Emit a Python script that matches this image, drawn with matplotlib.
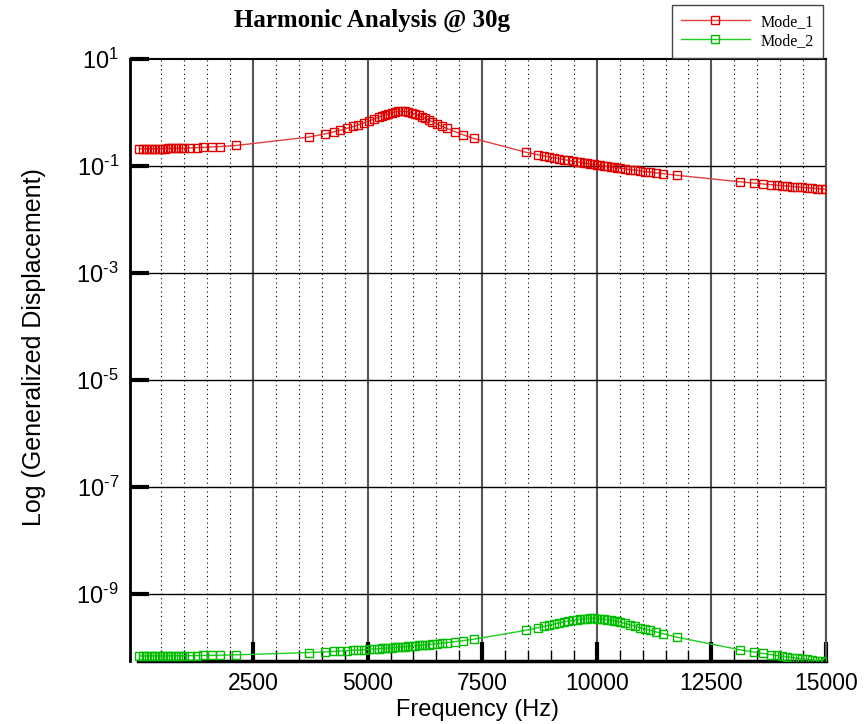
import matplotlib
matplotlib.use("Agg")
import matplotlib.pyplot as plt
import numpy as np
from matplotlib.ticker import FixedLocator, FixedFormatter

# frequencies of the solution points (Hz), shared by both modes
freq = [20, 90, 160, 230, 300, 370, 440, 510, 580, 650, 720, 790, 860, 930, 1000,
        1130, 1270, 1410, 1600, 1780, 2130,
        3720, 4070, 4270, 4400, 4550, 4690, 4800, 4910, 5020, 5130, 5240, 5310,
        5380, 5450, 5530, 5600, 5670, 5750, 5820, 5890, 5970, 6040, 6110, 6180,
        6260, 6330, 6400, 6510, 6620, 6730, 6910, 7080, 7310,
        8450, 8710, 8840, 8950, 9060, 9170, 9280, 9380, 9490, 9570, 9640, 9710,
        9790, 9860, 9930, 10000, 10080, 10150, 10220, 10300, 10370, 10440, 10510,
        10620, 10730, 10840, 10950, 11060, 11170, 11290, 11450, 11750,
        13120, 13420, 13630, 13790, 13930, 14040, 14150, 14260, 14370, 14480,
        14590, 14700, 14810, 14920, 15000]

mode_1 = [0.210, 0.210, 0.210, 0.210, 0.211, 0.211, 0.211, 0.212, 0.212, 0.213,
          0.213, 0.214, 0.214, 0.215, 0.216, 0.218, 0.220, 0.223, 0.227, 0.231, 0.242,
          0.348, 0.398, 0.436, 0.466, 0.505, 0.549, 0.590, 0.637, 0.689, 0.748,
          0.814, 0.860, 0.904, 0.950, 0.994, 1.026, 1.048, 1.055, 1.046, 1.021,
          0.980, 0.935, 0.883, 0.833, 0.773, 0.724, 0.677, 0.611, 0.554, 0.504,
          0.436, 0.384, 0.328,
          0.181, 0.163, 0.155, 0.148, 0.143, 0.137, 0.132, 0.1275, 0.1229, 0.1197,
          0.1171, 0.1145, 0.1117, 0.1094, 0.1071, 0.1048, 0.1024, 0.1004, 0.0984,
          0.0962, 0.0943, 0.0926, 0.0908, 0.0882, 0.0857, 0.0833, 0.0810, 0.0789,
          0.0767, 0.0746, 0.0718, 0.0671,
          0.0507, 0.0480, 0.0462, 0.0449, 0.0438, 0.0430, 0.0422, 0.0414, 0.0407,
          0.0399, 0.0392, 0.0386, 0.0379, 0.0372, 0.0368]

# Mode_2 in units of 1e-11
mode_2 = [7.00, 7.00, 7.00, 7.00, 7.01, 7.01, 7.01, 7.02, 7.02, 7.03, 7.04, 7.04,
          7.05, 7.06, 7.07, 7.09, 7.11, 7.14, 7.18, 7.23, 7.33,
          8.09, 8.35, 8.51, 8.63, 8.77, 8.91, 9.03, 9.15, 9.28, 9.41, 9.55, 9.64,
          9.74, 9.84, 9.96, 10.07, 10.17, 10.31, 10.43, 10.55, 10.69, 10.83, 10.96,
          11.11, 11.27, 11.43, 11.59, 11.85, 12.13, 12.42, 12.95, 13.50, 14.34,
          21.07, 23.51, 24.90, 26.16, 27.47, 28.84, 30.21, 31.42, 32.67, 33.48,
          34.08, 34.57, 35.00, 35.14, 35.18, 35.00, 34.62, 34.11, 33.45, 32.60,
          31.72, 30.78, 29.83, 28.25, 26.65, 25.12, 23.65, 22.28, 20.98, 19.69,
          18.13, 15.65,
          9.12, 8.29, 7.78, 7.42, 7.14, 6.92, 6.72, 6.53, 6.35, 6.17, 6.00, 5.85,
          5.69, 5.55, 5.45]

x_major = [2500, 5000, 7500, 10000, 12500, 15000]
x_minor = [v for v in range(500, 15000, 500) if v % 2500 != 0]
y_major = [1e1, 1e-1, 1e-3, 1e-5, 1e-7, 1e-9]
y_labels = [r"$10^{1}$", r"$10^{\text{-}1}$", r"$10^{\text{-}3}$", r"$10^{\text{-}5}$",
            r"$10^{\text{-}7}$", r"$10^{\text{-}9}$"]


def main():
    plt.rcParams['font.family'] = ['Liberation Sans', 'DejaVu Sans']
    plt.rcParams['mathtext.fontset'] = 'custom'
    plt.rcParams['mathtext.rm'] = 'Liberation Sans'
    plt.rcParams['mathtext.it'] = 'Liberation Sans'

    W, H = 868, 724
    fig = plt.figure(figsize=(W / 100, H / 100), dpi=100)
    ax = fig.add_axes([130 / W, 1 - 661 / H, (826 - 130) / W, (661 - 59) / H])

    ax.set_yscale('log')
    ax.set_xlim(-185, 15000)
    ax.set_ylim(10 ** -10.25, 10)

    # grid lines
    for v in x_minor:
        ax.axvline(v, color='black', lw=0.8, ls=(0, (1, 3)), zorder=1)
    for v in x_major:
        ax.axvline(v, color='#555555', lw=1.5, zorder=1)
    for v in y_major[1:]:
        ax.axhline(v, color='black', lw=1.0, zorder=1)

    ax.plot(freq, mode_1, color='#e04040', lw=1.0, marker='s', ms=5.5,
            mfc='none', mec='#dd0000', mew=1.0, label='Mode_1', zorder=3)
    ax.plot(freq, np.array(mode_2) * 1e-11, color='#22cc22', lw=1.0, marker='s', ms=5.5,
            mfc='none', mec='#00bb00', mew=1.0, label='Mode_2', zorder=3)

    ax.xaxis.set_major_locator(FixedLocator(x_major))
    ax.xaxis.set_major_formatter(FixedFormatter([str(v) for v in x_major]))
    ax.xaxis.set_minor_locator(FixedLocator(x_minor))
    ax.yaxis.set_major_locator(FixedLocator(y_major))
    ax.yaxis.set_major_formatter(FixedFormatter(y_labels))
    ax.yaxis.set_minor_locator(FixedLocator([]))

    ax.tick_params(axis='x', which='major', direction='in', length=14, width=3,
                   labelsize=16.5, pad=8, top=False)
    ax.tick_params(axis='x', which='minor', direction='in', length=8, width=1, top=False)
    ax.tick_params(axis='y', which='major', direction='in', length=14, width=3,
                   labelsize=17, pad=8, right=False)

    ax.spines['bottom'].set_bounds(0, 15000)
    ax.spines['bottom'].set_linewidth(2.5)
    ax.spines['left'].set_linewidth(2.0)
    ax.spines['top'].set_linewidth(1.5)
    ax.spines['right'].set_color('#555555')
    ax.spines['right'].set_linewidth(1.5)

    ax.set_xlabel('Frequency (Hz)', fontsize=17)
    ax.xaxis.set_label_coords(0.5, -(699 - 661) / 602)
    ax.set_ylabel('Log (Generalized Displacement)', fontsize=18)
    ax.yaxis.set_label_coords((46 - 130) / 696, (661 - 347) / 602)

    fig.text(372 / W, 1 - 20 / H, 'Harmonic Analysis @ 30g', ha='center', va='center',
             fontsize=18, fontweight='bold', family='Liberation Serif')

    leg = ax.legend(loc='upper right', bbox_to_anchor=(823 / W, 1 - 5 / H),
                    bbox_transform=fig.transFigure, borderaxespad=0,
                    prop={'family': 'Liberation Serif', 'size': 11.5},
                    frameon=True, fancybox=False, framealpha=1, edgecolor='#444444',
                    handlelength=4.3, handletextpad=0.7, numpoints=1,
                    borderpad=0.55, labelspacing=0.2)
    leg.get_frame().set_linewidth(1.0)
    leg.set_zorder(10)

    fig.savefig('out.png', dpi=100)


if __name__ == "__main__":
    main()
